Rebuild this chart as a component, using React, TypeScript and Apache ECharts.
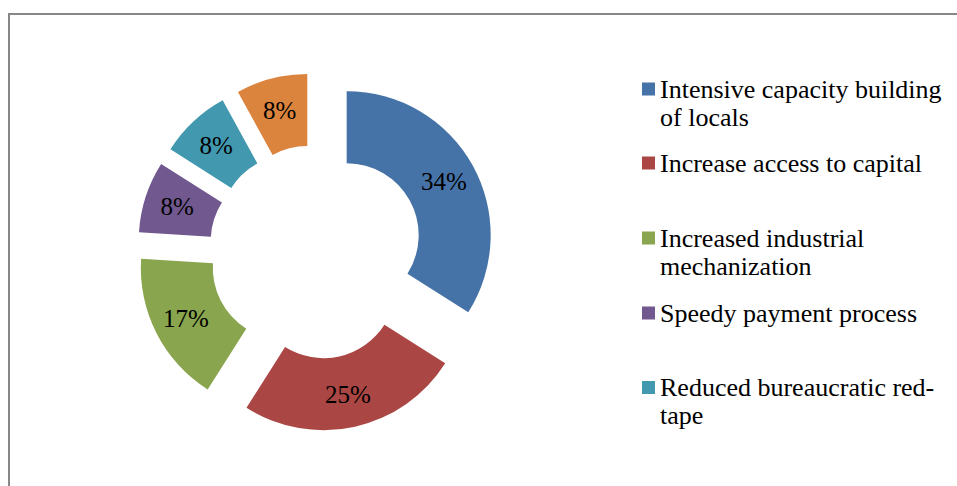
import React, { useEffect, useRef } from "react";
import * as echarts from "echarts";

// Survey responses: measures proposed, share of respondents (%)
const categories = [
  "Intensive capacity building\nof locals",
  "Increase access to capital",
  "Increased industrial\nmechanization",
  "Speedy payment process",
  "Reduced bureaucratic red-\ntape",
  "Other",
];
const shares = [34, 25, 17, 8, 8, 8];
const palette = ["#4572A7", "#AA4643", "#89A54E", "#71588F", "#4198AF", "#DB843D"];

// Legend rows shown at the right (the last slice has no visible row)
const legendNames = categories.slice(0, 5);
const legendRowCenters = [90, 164, 239, 314, 388.5];

const SERIF = "'Liberation Serif', 'Times New Roman', serif";
const LINE_H = 28;

export default function App() {
  const ref = useRef<HTMLDivElement>(null);

  useEffect(() => {
    if (!ref.current) return;
    const chart = echarts.init(ref.current, undefined, { renderer: "svg" });

    const legends = legendNames.map((name, i) => {
      const twoLines = name.includes("\n");
      // top padding keeps the first text line level with the square marker
      const boxOffset = twoLines ? 20 + LINE_H : 20;
      return {
        show: true,
        data: [name],
        orient: "vertical" as const,
        left: 637,
        top: legendRowCenters[i] - boxOffset,
        icon: "rect",
        itemWidth: 13,
        itemHeight: 13,
        selectedMode: false,
        formatter: "{t|{name}}",
        itemStyle: { borderWidth: 0 },
        textStyle: {
          color: "#000",
          fontFamily: SERIF,
          fontSize: 26,
          lineHeight: LINE_H,
          padding: twoLines ? [LINE_H, 0, 0, 0] : 0,
          rich: {
            t: { color: "#000", fontFamily: SERIF, fontSize: 26, lineHeight: LINE_H },
          },
        },
      };
    });

    chart.setOption({
      animation: false,
      color: palette,
      graphic: [
        {
          type: "rect",
          silent: true,
          z: -1,
          shape: { x: 9, y: 14, width: 1000, height: 1000 },
          style: { fill: "none", stroke: "#878787", lineWidth: 2 },
        },
      ],
      legend: legends,
      series: [
        {
          type: "pie",
          center: [316, 252],
          radius: [72, 144],
          startAngle: 90,
          clockwise: true,
          selectedMode: "multiple",
          selectedOffset: 35,
          avoidLabelOverlap: false,
          emphasis: { disabled: true, scale: false },
          itemStyle: { borderWidth: 0 },
          label: {
            show: true,
            position: "inside",
            formatter: "{c}%",
            color: "#000",
            fontFamily: SERIF,
            fontSize: 25,
          },
          labelLine: { show: false },
          data: categories.map((name, i) => ({
            name,
            value: shares[i],
            selected: true,
            itemStyle: { color: palette[i] },
            select: { itemStyle: { color: palette[i] } },
          })),
        },
      ],
    });

    return () => chart.dispose();
  }, []);

  return (
    <div
      ref={ref}
      style={{ position: "absolute", left: 0, top: 0, width: 957, height: 486, background: "#fff" }}
    />
  );
}
